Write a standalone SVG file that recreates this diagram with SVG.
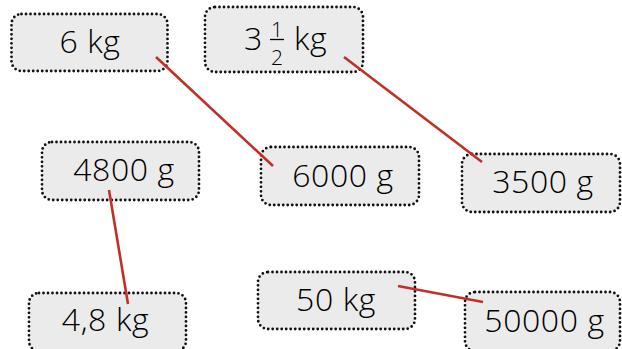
<svg xmlns="http://www.w3.org/2000/svg" width="622" height="349" viewBox="0 0 622 349">
<style>
.box{fill:#ebebeb;stroke:#111;stroke-width:2.8;stroke-dasharray:0 4.5;stroke-linecap:round}
.t{font-family:"Open Sans","DejaVu Sans",sans-serif;font-weight:300;font-size:32px;letter-spacing:0.6px;fill:#000;text-anchor:middle}
.f{font-family:"Open Sans","DejaVu Sans",sans-serif;font-weight:300;font-size:21px;fill:#000;text-anchor:middle}
.c{stroke:#c0302a;stroke-width:2.6;fill:none}
</style>
<rect width="622" height="349" fill="#fff"/>
<g id="n6kg"><rect class="box" x="11.5" y="14" width="156" height="57" rx="10"/><text class="t" x="90" y="53">6 kg</text></g>
<g id="n3half"><rect class="box" x="205" y="7" width="158" height="65" rx="10"/><text class="t" x="244" y="50" style="text-anchor:start">3</text><text class="f" x="277" y="37">1</text><line x1="270" y1="39.5" x2="284" y2="39.5" stroke="#000" stroke-width="1.3"/><text class="f" x="277" y="65">2</text><text class="t" x="294" y="50" style="text-anchor:start">kg</text></g>
<g id="n4800"><rect class="box" x="42" y="142" width="157" height="58" rx="10"/><text class="t" x="124" y="181">4800 g</text></g>
<g id="n6000"><rect class="box" x="261" y="147" width="158" height="58" rx="10"/><text class="t" x="343" y="187">6000 g</text></g>
<g id="n3500"><rect class="box" x="462" y="154" width="158" height="58" rx="10"/><text class="t" x="543" y="193">3500 g</text></g>
<g id="n48kg"><rect class="box" x="29" y="293" width="157" height="58" rx="10"/><text class="t" x="105.5" y="331">4,8 kg</text></g>
<g id="n50kg"><rect class="box" x="258" y="272" width="157" height="57" rx="10"/><text class="t" x="336" y="311">50 kg</text></g>
<g id="n50000"><rect class="box" x="465" y="292" width="155" height="59" rx="10"/><text class="t" x="544.5" y="332">50000 g</text></g>
<g id="connectors">
<line class="c" x1="156" y1="57" x2="273" y2="166"/>
<line class="c" x1="344" y1="57" x2="482" y2="162"/>
<line class="c" x1="109" y1="190" x2="128" y2="304"/>
<line class="c" x1="398" y1="286" x2="483" y2="302"/>
</g>
</svg>
